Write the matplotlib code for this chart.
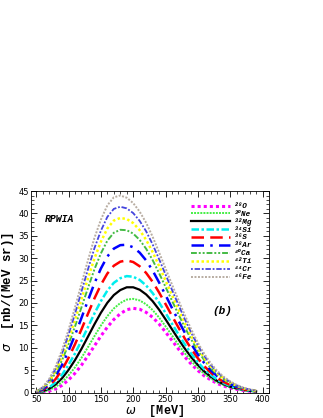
import numpy as np
import matplotlib.pyplot as plt
from matplotlib.ticker import MultipleLocator

plt.rcParams['font.family'] = ['DejaVu Sans']
plt.rcParams['mathtext.fontset'] = 'dejavusans'

# omega grid [MeV]
omega = [50, 60, 70, 80, 90, 100, 110, 120, 130, 140, 150, 160, 170, 180, 190, 200, 210,
         220, 230, 240, 250, 260, 270, 280, 290, 300, 310, 320, 330, 340, 350, 360, 370, 380, 390]

# cross sections [nb/(MeV sr)]
sig_O = [0.0, 0.05, 0.3, 0.8, 1.6, 2.8, 4.3, 6.1, 8.2, 10.4, 12.6, 14.6, 16.3, 17.6, 18.5, 18.8, 18.6,
         17.9, 16.8, 15.3, 13.5, 11.6, 9.7, 7.9, 6.3, 4.9, 3.7, 2.8, 2.0, 1.45, 1.0, 0.7, 0.45, 0.3, 0.2]
sig_Ne = [0.03, 0.15, 0.54, 1.25, 2.31, 3.81, 5.62, 7.74, 10.12, 12.57, 14.94, 17.05, 18.76, 19.98, 20.75, 20.92, 20.56,
          19.70, 18.42, 16.74, 14.78, 12.73, 10.68, 8.74, 6.99, 5.46, 4.14, 3.13, 2.25, 1.63, 1.14, 0.79, 0.51, 0.34, 0.22]
sig_Mg = [0.06, 0.28, 0.84, 1.8, 3.18, 5.04, 7.24, 9.74, 12.46, 15.22, 17.8, 20.04, 21.76, 22.88, 23.5, 23.5, 22.96,
          21.9, 20.4, 18.5, 16.34, 14.1, 11.88, 9.76, 7.84, 6.14, 4.68, 3.54, 2.56, 1.86, 1.3, 0.9, 0.58, 0.38, 0.25]
sig_Si = [0.09, 0.4, 1.11, 2.3, 3.97, 6.16, 8.71, 11.56, 14.59, 17.63, 20.4, 22.76, 24.49, 25.52, 26.0, 25.85, 25.14,
          23.9, 22.2, 20.1, 17.76, 15.35, 12.97, 10.69, 8.61, 6.76, 5.17, 3.91, 2.84, 2.07, 1.45, 1.0, 0.65, 0.42, 0.28]
sig_S = [0.13, 0.56, 1.49, 3.0, 5.08, 7.73, 10.77, 14.11, 17.57, 21.0, 24.04, 26.57, 28.31, 29.22, 29.5, 29.14, 28.19,
         26.7, 24.72, 22.34, 19.75, 17.1, 14.5, 11.99, 9.69, 7.63, 5.86, 4.43, 3.23, 2.35, 1.66, 1.14, 0.74, 0.48, 0.31]
sig_Ar = [0.17, 0.72, 1.87, 3.7, 6.18, 9.3, 12.83, 16.66, 20.55, 24.38, 27.68, 30.38, 32.13, 32.91, 33.0, 32.43, 31.24,
          29.5, 27.24, 24.58, 21.74, 18.85, 16.02, 13.29, 10.77, 8.5, 6.54, 4.95, 3.62, 2.64, 1.87, 1.28, 0.83, 0.53, 0.35]
sig_Ca = [0.21, 0.87, 2.22, 4.35, 7.21, 10.75, 14.74, 19.02, 23.32, 27.51, 31.06, 33.91, 35.68, 36.34, 36.25, 35.49, 34.08,
          32.1, 29.58, 26.66, 23.58, 20.48, 17.44, 14.5, 11.77, 9.3, 7.18, 5.43, 3.99, 2.91, 2.07, 1.41, 0.91, 0.58, 0.38]
sig_Ti = [0.24, 0.98, 2.49, 4.85, 8.0, 11.87, 16.21, 20.84, 25.45, 29.92, 33.66, 36.63, 38.41, 38.98, 38.75, 37.84, 36.26,
          34.1, 31.38, 28.26, 25.0, 21.73, 18.53, 15.43, 12.54, 9.92, 7.67, 5.8, 4.27, 3.11, 2.22, 1.51, 0.98, 0.62, 0.4]
sig_Cr = [0.27, 1.09, 2.74, 5.33, 8.75, 12.94, 17.6, 22.57, 27.48, 32.21, 36.13, 39.22, 41.01, 41.49, 41.13, 40.07, 38.33,
          36.0, 33.09, 29.78, 26.35, 22.91, 19.56, 16.32, 13.27, 10.51, 8.13, 6.15, 4.53, 3.3, 2.36, 1.61, 1.04, 0.66, 0.43]
sig_Fe = [0.3, 1.2, 3.0, 5.8, 9.5, 14.0, 19.0, 24.3, 29.5, 34.5, 38.6, 41.8, 43.6, 44.0, 43.5, 42.3, 40.4,
          37.9, 34.8, 31.3, 27.7, 24.1, 20.6, 17.2, 14.0, 11.1, 8.6, 6.5, 4.8, 3.5, 2.5, 1.7, 1.1, 0.7, 0.45]

mass = ['28', '30', '32', '34', '36', '38', '40', '42', '44', '46']
elem = ['O', 'Ne', 'Mg', 'Si', 'S', 'Ar', 'Ca', 'Ti', 'Cr', 'Fe']
series = [sig_O, sig_Ne, sig_Mg, sig_Si, sig_S, sig_Ar, sig_Ca, sig_Ti, sig_Cr, sig_Fe]

# 线型
styles = [
    dict(color='#ff00ff', lw=2.2, ls=(0, (1, 1))),
    dict(color='#44ee44', lw=1.4, ls=(0, (1, 0.6))),
    dict(color='black', lw=1.6, ls='-'),
    dict(color='#00eeee', lw=1.8, ls=(0, (3, 1, 1, 1))),
    dict(color='#ff0000', lw=1.8, ls=(0, (5, 2.5))),
    dict(color='#0000ff', lw=1.8, ls=(0, (5, 2.5, 1, 2.5))),
    dict(color='#44bb44', lw=1.4, ls=(0, (3, 1, 1, 1, 1, 1))),
    dict(color='#ffff00', lw=1.8, ls=(0, (1, 1))),
    dict(color='#4444dd', lw=1.3, ls=(0, (1, 1, 3, 1))),
    dict(color='#b8ada2', lw=1.4, ls=(0, (1, 0.8))),
]

fig = plt.figure(figsize=(3.23, 4.18), dpi=100)
ax = fig.add_axes([0.096, 0.061, 0.737, 0.482])

for y, st in zip(series, styles):
    ax.plot(omega, y, **st)

ax.set_xlim(42, 410)
ax.set_ylim(0, 45)
ax.xaxis.set_major_locator(MultipleLocator(50))
ax.xaxis.set_minor_locator(MultipleLocator(10))
ax.yaxis.set_major_locator(MultipleLocator(5))
ax.yaxis.set_minor_locator(MultipleLocator(1))
ax.tick_params(which='both', direction='in', top=True, right=True, labelsize=6, pad=1.5)
ax.tick_params(which='major', length=4, width=0.6)
ax.tick_params(which='minor', length=2, width=0.5)
for sp in ax.spines.values():
    sp.set_linewidth(0.6)

mono = 'Liberation Mono'
ax.set_xlabel(r'$\omega$  [MeV]', fontsize=8.5, fontweight='bold', family=mono, va='top')
ax.xaxis.set_label_coords(0.52, -0.05)
ax.set_ylabel(r'$\sigma$  [nb/(MeV sr)]', fontsize=9, fontweight='bold', family=mono, labelpad=2)

ax.text(0.06, 0.845, 'RPWIA', transform=ax.transAxes, fontsize=7, fontweight='bold',
        style='italic', family=mono)
ax.text(0.76, 0.39, '(b)', transform=ax.transAxes, fontsize=8, fontweight='bold',
        style='italic', family=mono)

# legend drawn by hand, rows are tight in the original
sup = str.maketrans('0123456789', '⁰¹²³⁴⁵⁶⁷⁸⁹')
row0, drow = 0.928, 0.0392
for i, st in enumerate(styles):
    yy = row0 - i * drow
    ax.plot([0.672, 0.836], [yy, yy], transform=ax.transAxes, clip_on=False, **st)
    ax.text(0.853, yy - 0.004, mass[i].translate(sup) + elem[i], transform=ax.transAxes,
            fontsize=5.5, fontweight='bold', style='italic', family=[mono, 'DejaVu Sans'],
            va='center', ha='left')

fig.savefig('out.png', dpi=100)
